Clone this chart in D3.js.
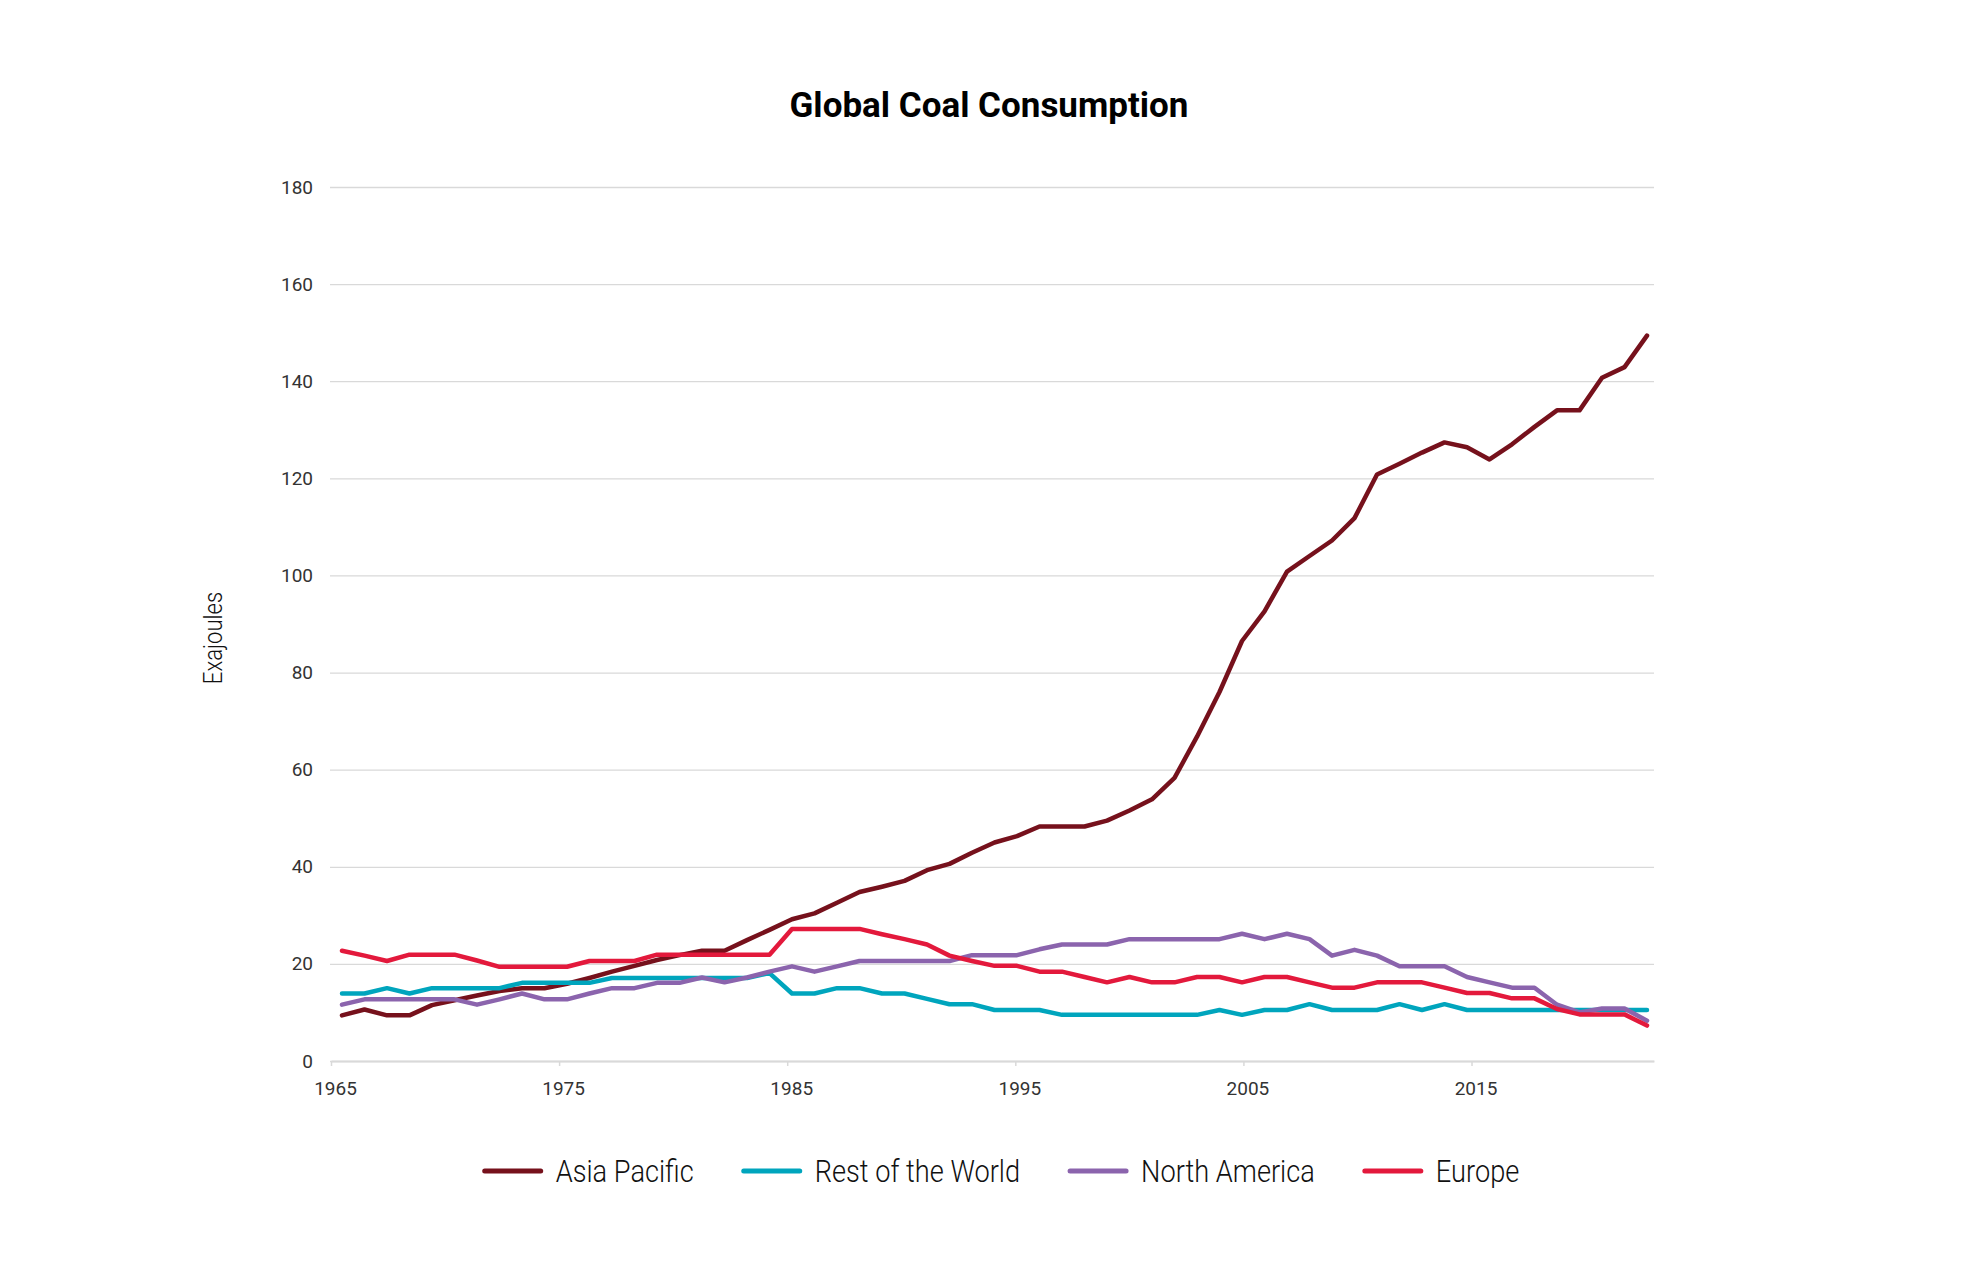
<!DOCTYPE html>
<html>
<head>
<meta charset="utf-8">
<script src="https://cdn.jsdelivr.net/npm/d3@7"></script>
<style>
body { margin: 0; background: #fff; }
</style>
</head>
<body>
<svg id="chart" width="1980" height="1275"></svg>
<script>
// yearly values, 1965 - 2023, in exajoules
const years = d3.range(1965, 2024);

const asiaPacific = [
	9.4, 10.6, 9.4, 9.4, 11.5, 12.5, 13.5, 14.4, 15.0, 15.0,
	15.9, 17.1, 18.4, 19.6, 20.8, 21.8, 22.7, 22.7, 24.9, 27.0,
	29.2, 30.4, 32.6, 34.8, 35.9, 37.1, 39.3, 40.6, 42.9, 45.0,
	46.3, 48.3, 48.3, 48.3, 49.5, 51.6, 53.9, 58.3, 66.8, 76.0,
	86.5, 92.6, 100.8, 104.0, 107.2, 111.8, 120.8, 123.0, 125.3, 127.4,
	126.4, 123.9, 127.0, 130.6, 134.0, 134.0, 140.7, 142.9, 149.4
];
const restOfWorld = [
	13.9, 13.9, 15.0, 13.9, 15.0, 15.0, 15.0, 15.0, 16.1, 16.1,
	16.1, 16.1, 17.1, 17.1, 17.1, 17.1, 17.1, 17.1, 17.1, 18.1,
	13.9, 13.9, 15.0, 15.0, 13.9, 13.9, 12.8, 11.7, 11.7, 10.5,
	10.5, 10.5, 9.5, 9.5, 9.5, 9.5, 9.5, 9.5, 9.5, 10.5,
	9.5, 10.5, 10.5, 11.7, 10.5, 10.5, 10.5, 11.7, 10.5, 11.7,
	10.5, 10.5, 10.5, 10.5, 10.5, 10.5, 10.5, 10.5, 10.5
];
const northAmerica = [
	11.6, 12.7, 12.7, 12.7, 12.7, 12.7, 11.6, 12.7, 13.9, 12.7,
	12.7, 13.9, 15.0, 15.0, 16.1, 16.1, 17.2, 16.2, 17.2, 18.4,
	19.5, 18.4, 19.5, 20.6, 20.6, 20.6, 20.6, 20.6, 21.8, 21.8,
	21.8, 23.0, 24.0, 24.0, 24.0, 25.1, 25.1, 25.1, 25.1, 25.1,
	26.2, 25.1, 26.2, 25.1, 21.7, 22.9, 21.7, 19.5, 19.5, 19.5,
	17.3, 16.2, 15.1, 15.1, 11.6, 10.0, 10.8, 10.8, 8.3
];
const europe = [
	22.7, 21.7, 20.6, 21.9, 21.9, 21.9, 20.7, 19.4, 19.4, 19.4,
	19.4, 20.6, 20.6, 20.6, 21.9, 21.9, 21.9, 21.9, 21.9, 21.9,
	27.2, 27.2, 27.2, 27.2, 26.1, 25.1, 24.0, 21.7, 20.6, 19.6,
	19.6, 18.4, 18.4, 17.3, 16.2, 17.3, 16.2, 16.2, 17.3, 17.3,
	16.2, 17.3, 17.3, 16.2, 15.1, 15.1, 16.2, 16.2, 16.2, 15.1,
	14.0, 14.0, 12.9, 12.9, 10.7, 9.6, 9.6, 9.6, 7.3
];

const seriesNames = ["Asia Pacific", "Rest of the World", "North America", "Europe"];
const seriesColours = ["#76111c", "#00a5bd", "#8b64ad", "#e3193c"];
const seriesValues = [asiaPacific, restOfWorld, northAmerica, europe];

const yTicks = [0, 20, 40, 60, 80, 100, 120, 140, 160, 180];
const xTicks = [1965, 1975, 1985, 1995, 2005, 2015];

function drawChart(holder){
	let svg = d3.select(holder);
	let margin = {"left": 331, "right": 326, "top": 187, "bottom": 214};
	let width = +svg.attr("width");
	let height = +svg.attr("height");
	let squeeze = 0.85; // the legend font is a condensed light face, fake it

	svg.append("rect").attr("width", width).attr("height", height).attr("fill", "#fff");

	let y = d3.scaleLinear()
		.domain([0, 180])
		.range([height - margin.bottom, margin.top]);
	let xAxisScale = d3.scaleLinear()
		.domain([1965, 2023])
		.range([margin.left, width - margin.right]);
	let x = d3.scalePoint()
		.domain(years)
		.range([margin.left + 11, width - margin.right - 7]);

	// gridlines + y labels
	let yAxis = svg.append("g")
		.attr("transform", `translate(${margin.left - 1},0)`)
		.call(d3.axisLeft(y).tickValues(yTicks).tickSize(-(width - margin.left - margin.right + 1)).tickPadding(17));
	yAxis.select(".domain").remove();
	yAxis.selectAll(".tick line")
		.attr("stroke", "#d9d9d9")
		.attr("stroke-width", 1.3);
	yAxis.selectAll(".tick text")
		.attr("font-family", "Roboto, sans-serif")
		.attr("font-size", 19)
		.attr("fill", "#333");

	// x axis
	let xAxis = svg.append("g")
		.attr("transform", `translate(0,${height - margin.bottom})`)
		.call(d3.axisBottom(xAxisScale).tickValues(xTicks).tickFormat(d3.format("d")).tickSize(5).tickSizeOuter(0).tickPadding(16));
	xAxis.select(".domain")
		.attr("stroke", "#d9d9d9")
		.attr("stroke-width", 2);
	xAxis.selectAll(".tick line")
		.attr("stroke", "#d9d9d9")
		.attr("stroke-width", 1.5);
	xAxis.selectAll(".tick text")
		.attr("dx", 4)
		.attr("font-family", "Roboto, sans-serif")
		.attr("font-size", 19)
		.attr("fill", "#333");

	// the lines
	let line = d3.line()
		.x((d, i) => x(years[i]))
		.y(d => y(d));

	svg.append("g").selectAll("path")
		.data(seriesValues)
		.enter().append("path")
			.attr("d", line)
			.attr("fill", "none")
			.attr("stroke", (d, i) => seriesColours[i])
			.attr("stroke-width", 4.5)
			.attr("stroke-linejoin", "round")
			.attr("stroke-linecap", "round");

	// title
	svg.append("text")
		.attr("x", 989)
		.attr("y", 117)
		.attr("text-anchor", "middle")
		.attr("font-family", "Roboto, sans-serif")
		.attr("font-weight", 700)
		.attr("font-size", 35)
		.attr("fill", "#000")
		.text("Global Coal Consumption");

	// y title
	svg.append("text")
		.attr("transform", `translate(213,638) rotate(-90) scale(${squeeze},1)`)
		.attr("text-anchor", "middle")
		.attr("dominant-baseline", "central")
		.attr("font-family", "Roboto, sans-serif")
		.attr("font-weight", 300)
		.attr("font-size", 26)
		.attr("fill", "#111")
		.text("Exajoules");

	// legend
	let legend = svg.append("g").attr("class", "legend");
	let items = legend.selectAll("g")
		.data(seriesNames)
		.enter().append("g");
	items.append("line")
		.attr("x1", 0).attr("x2", 56)
		.attr("y1", 0).attr("y2", 0)
		.attr("stroke", (d, i) => seriesColours[i])
		.attr("stroke-width", 5)
		.attr("stroke-linecap", "round");
	items.append("text")
		.attr("transform", `translate(71,0) scale(${squeeze},1)`)
		.attr("dominant-baseline", "central")
		.attr("font-family", "Roboto, sans-serif")
		.attr("font-weight", 300)
		.attr("font-size", 32)
		.attr("fill", "#111")
		.text(d => d);

	let gap = 50;
	let widths = [];
	items.each(function(){ widths.push(71 + squeeze * d3.select(this).select("text").node().getComputedTextLength()); });
	let total = d3.sum(widths) + gap * (widths.length - 1);
	let cursor = 1002 - total / 2;
	items.attr("transform", function(d, i){
		let t = `translate(${cursor},1171)`;
		cursor += widths[i] + gap;
		return t;
	});
}

drawChart("#chart");
</script>
</body>
</html>
